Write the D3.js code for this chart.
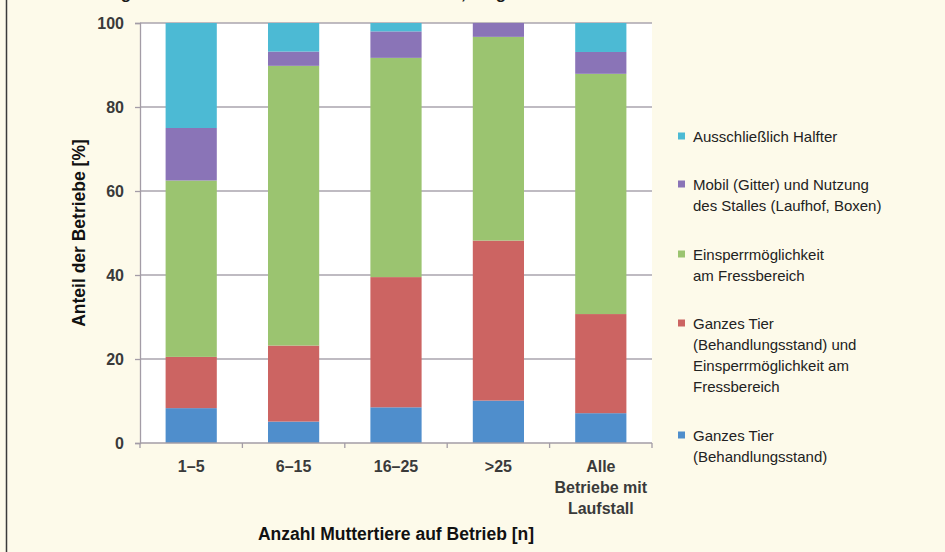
<!DOCTYPE html>
<html>
<head>
<meta charset="utf-8">
<script src="https://cdn.jsdelivr.net/npm/d3@7"></script>
<style>
  html, body { margin: 0; padding: 0; background: #fdfaea; }
  svg { display: block; }
</style>
</head>
<body>
<div id="chart"></div>
<script>
// categories (x axis), one label line per array entry
const categories = ['1–5', '6–15', '16–25', '>25', 'Alle'];
const categoryLines = [['1–5'], ['6–15'], ['16–25'], ['>25'], ['Alle', 'Betriebe mit', 'Laufstall']];

// series, bottom to top of the stack
const seriesKeys = ['ganzesTier', 'ganzesTierEinsperr', 'einsperr', 'mobil', 'halfter'];
const ganzesTier         = [8.3, 5.1, 8.5, 10.1, 7.1];
const ganzesTierEinsperr = [12.2, 18.1, 31.0, 38.1, 23.6];
const einsperr           = [42.0, 66.6, 52.2, 48.5, 57.2];
const mobil              = [12.5, 3.4, 6.3, 3.3, 5.2];
const halfter            = [25.0, 6.8, 2.0, 0.0, 6.9];

const yTicks = [0, 20, 40, 60, 80, 100];

// legend, top to bottom
const legendKeys = ['halfter', 'mobil', 'einsperr', 'ganzesTierEinsperr', 'ganzesTier'];
const legendLabels = [
  ['Ausschließlich Halfter'],
  ['Mobil (Gitter) und Nutzung', 'des Stalles (Laufhof, Boxen)'],
  ['Einsperrmöglichkeit', 'am Fressbereich'],
  ['Ganzes Tier', '(Behandlungsstand) und', 'Einsperrmöglichkeit am', 'Fressbereich'],
  ['Ganzes Tier', '(Behandlungsstand)']
];

const colors = {
  halfter: '#4cbad4',
  mobil: '#8a74b7',
  einsperr: '#9bc470',
  ganzesTierEinsperr: '#cc6462',
  ganzesTier: '#4f8ecc'
};

const titleText = 'Abb. 4: Häufigkeit der Fixiermethoden in den Betrieben, aufgeteilt nach Anzahl der Muttertiere';

const W = 945, H = 552;
const margin = {left: 140, right: 293, top: 23, bottom: 109};
const sans = '"Liberation Sans", Arial, sans-serif';

const svg = d3.select('#chart').append('svg')
  .attr('width', W)
  .attr('height', H);

svg.append('rect').attr('width', W).attr('height', H).attr('fill', '#fdfaea');

// title line, cut off at the top edge as in the source scan
svg.append('text')
  .attr('x', 16).attr('y', -1.5)
  .style('font-family', sans)
  .style('font-size', '17px')
  .style('font-weight', 'bold')
  .style('fill', '#1a1a1a')
  .text(titleText);

// frame line at left
svg.append('line')
  .attr('x1', 6.5).attr('x2', 6.5).attr('y1', 0).attr('y2', H)
  .attr('stroke', '#3a3a3a').attr('stroke-width', 1.5);

const pw = W - margin.left - margin.right;
const ph = H - margin.top - margin.bottom;

const x = d3.scaleBand().domain(categories).range([margin.left, margin.left + pw]).paddingInner(0.5).paddingOuter(0.25);
const y = d3.scaleLinear().domain([0, 100]).range([margin.top + ph, margin.top]);

const table = categories.map((c, i) => ({
  cat: c,
  ganzesTier: ganzesTier[i],
  ganzesTierEinsperr: ganzesTierEinsperr[i],
  einsperr: einsperr[i],
  mobil: mobil[i],
  halfter: halfter[i]
}));
const stacked = d3.stack().keys(seriesKeys)(table);

// plot background
svg.append('rect')
  .attr('x', margin.left).attr('y', margin.top)
  .attr('width', pw).attr('height', ph)
  .attr('fill', '#ffffff');

// gridlines
svg.append('g')
  .selectAll('line')
  .data(yTicks.filter(d => d > 0))
  .join('line')
  .attr('x1', margin.left).attr('x2', margin.left + pw)
  .attr('y1', d => y(d)).attr('y2', d => y(d))
  .attr('stroke', '#aaa4ae').attr('stroke-width', 1.3);

// bars
svg.append('g')
  .selectAll('g')
  .data(stacked)
  .join('g')
  .attr('fill', d => colors[d.key])
  .selectAll('rect')
  .data(d => d)
  .join('rect')
  .attr('x', d => x(d.data.cat))
  .attr('width', x.bandwidth())
  .attr('y', d => y(d[1]))
  .attr('height', d => y(d[0]) - y(d[1]));

// y axis
const yAxis = svg.append('g')
  .attr('transform', `translate(${margin.left},0)`)
  .call(d3.axisLeft(y).tickValues(yTicks).tickSize(5).tickPadding(11));
yAxis.select('.domain').attr('stroke', '#a39ca6').attr('stroke-width', 1.3);
yAxis.selectAll('.tick line').attr('stroke', '#a39ca6').attr('stroke-width', 1.3);
yAxis.selectAll('.tick text')
  .style('font-family', sans)
  .style('font-size', '16px')
  .style('font-weight', 'bold')
  .style('fill', '#3a3a3a');

// x axis: ticks at category boundaries
const bounds = d3.range(categories.length + 1).map(i => margin.left + i * pw / categories.length);
svg.append('line')
  .attr('x1', margin.left).attr('x2', margin.left + pw)
  .attr('y1', y(0)).attr('y2', y(0))
  .attr('stroke', '#a39ca6').attr('stroke-width', 1.3);
svg.append('g')
  .selectAll('line')
  .data(bounds)
  .join('line')
  .attr('x1', d => d).attr('x2', d => d)
  .attr('y1', y(0)).attr('y2', y(0) + 5)
  .attr('stroke', '#a39ca6').attr('stroke-width', 1.3);

const xl = svg.append('g')
  .selectAll('text')
  .data(categories)
  .join('text')
  .attr('x', d => x(d) + x.bandwidth() / 2)
  .attr('y', y(0) + 29)
  .attr('text-anchor', 'middle')
  .style('font-family', sans)
  .style('font-size', '16px')
  .style('font-weight', 'bold')
  .style('fill', '#3a3a3a');
xl.selectAll('tspan')
  .data((d, i) => categoryLines[i])
  .join('tspan')
  .attr('x', function() { return this.parentNode.getAttribute('x'); })
  .attr('dy', (d, i) => i === 0 ? 0 : 21)
  .text(d => d);

// axis titles
svg.append('text')
  .attr('x', margin.left + pw / 2)
  .attr('y', 540)
  .attr('text-anchor', 'middle')
  .style('font-family', sans)
  .style('font-size', '17.5px')
  .style('font-weight', 'bold')
  .style('fill', '#111')
  .text('Anzahl Muttertiere auf Betrieb [n]');

svg.append('text')
  .attr('transform', `translate(85,${margin.top + ph / 2}) rotate(-90)`)
  .attr('text-anchor', 'middle')
  .style('font-family', sans)
  .style('font-size', '17.5px')
  .style('font-weight', 'bold')
  .style('fill', '#111')
  .text('Anteil der Betriebe [%]');

// legend
const legendTop = [136, 184, 254, 323, 435];
const leg = svg.append('g')
  .selectAll('g')
  .data(legendKeys)
  .join('g')
  .attr('transform', (d, i) => `translate(678,${legendTop[i]})`);
leg.append('rect')
  .attr('x', 0).attr('y', -3.5)
  .attr('width', 7).attr('height', 7)
  .attr('fill', d => colors[d]);
leg.append('text')
  .attr('x', 15).attr('y', 5.5)
  .style('font-family', sans)
  .style('font-size', '15px')
  .style('fill', '#222')
  .selectAll('tspan')
  .data((d, i) => legendLabels[i])
  .join('tspan')
  .attr('x', 15)
  .attr('dy', (d, i) => i === 0 ? 0 : 21.2)
  .text(d => d);
</script>
</body>
</html>
